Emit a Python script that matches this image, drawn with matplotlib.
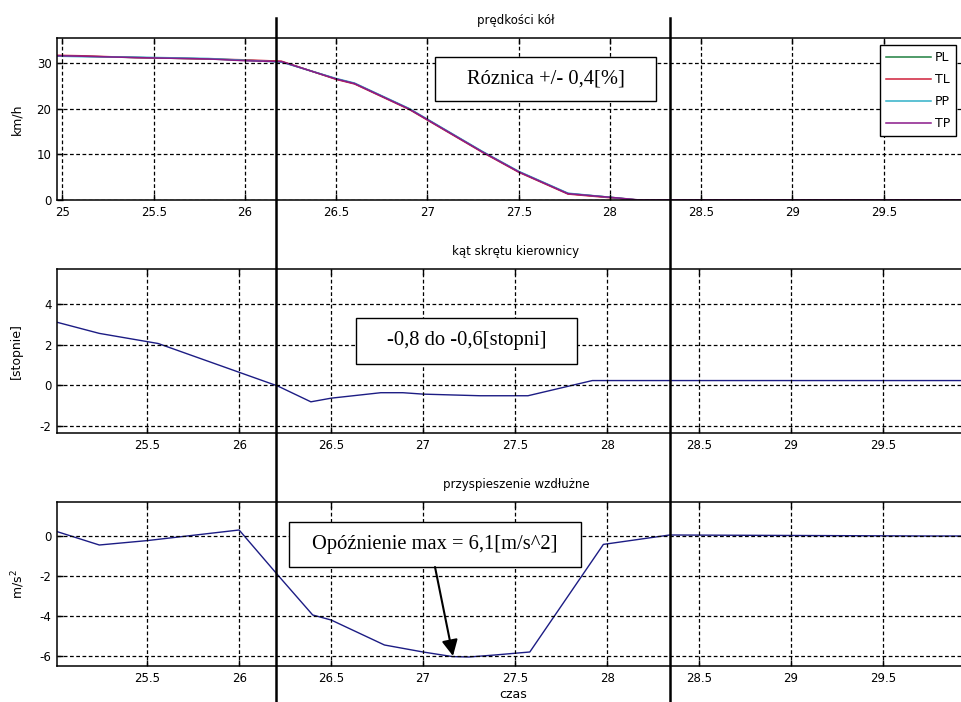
import matplotlib
matplotlib.use("Agg")
import matplotlib.pyplot as plt
from matplotlib.lines import Line2D
from matplotlib.patches import Rectangle, FancyArrowPatch

# ---------------- data ----------------
t_speed = [24.97, 25.1, 25.4, 25.8, 26.0, 26.2, 26.5, 26.6, 26.9, 27.3, 27.5, 27.77, 28.0, 28.15, 30.0]
speed_PL = [31.6, 31.6, 31.3, 31.0, 30.7, 30.4, 26.6, 25.6, 20.0, 10.6, 6.2, 1.4, 0.6, 0.0, 0.0]
speed_TL = [31.8, 31.7, 31.3, 31.0, 30.8, 30.5, 26.5, 25.5, 19.9, 10.5, 6.1, 1.3, 0.5, 0.0, 0.0]
speed_PP = [31.6, 31.5, 31.4, 31.1, 30.7, 30.3, 26.7, 25.7, 20.1, 10.7, 6.3, 1.5, 0.6, 0.0, 0.0]
speed_TP = [31.7, 31.6, 31.3, 31.0, 30.6, 30.4, 26.6, 25.6, 20.0, 10.6, 6.2, 1.4, 0.6, 0.05, 0.05]
speed_labels = ["PL", "TL", "PP", "TP"]
speed_colors = ["#1f8040", "#d0203a", "#30b0c8", "#8a1a8a"]

t_steer = [25.01, 25.24, 25.56, 26.21, 26.39, 26.5, 26.77, 26.89, 27.0, 27.31, 27.57, 27.92, 30.0]
steer = [3.1, 2.55, 2.05, -0.05, -0.83, -0.65, -0.38, -0.38, -0.45, -0.53, -0.53, 0.22, 0.22]

t_acc = [25.01, 25.24, 25.5, 26.0, 26.21, 26.4, 26.5, 26.79, 27.0, 27.16, 27.25, 27.39, 27.49,
         27.58, 27.98, 28.34, 29.74, 30.0]
acc = [0.22, -0.45, -0.23, 0.3, -1.95, -3.95, -4.2, -5.45, -5.8, -6.03, -6.05, -5.95, -5.87,
       -5.8, -0.42, 0.05, 0.0, 0.0]

marker_times = [26.2, 28.34]

x_ticks_top = [25, 25.5, 26, 26.5, 27, 27.5, 28, 28.5, 29, 29.5]
x_ticklabels_top = ["25", "25.5", "26", "26.5", "27", "27.5", "28", "28.5", "29", "29.5"]
x_ticks_low = [25.5, 26, 26.5, 27, 27.5, 28, 28.5, 29, 29.5]
x_ticklabels_low = ["25.5", "26", "26.5", "27", "27.5", "28", "28.5", "29", "29.5"]

titles = ["prędkości kół", "kąt skrętu kierownicy", "przyspieszenie wzdłużne"]
ylabels = ["km/h", "[stopnie]", "m/s$^2$"]
notes = ["Róznica +/- 0,4[%]", "-0,8 do -0,6[stopni]", "Opóźnienie max = 6,1[m/s^2]"]

# ---------------- figure ----------------
W, H = 962, 702
plt.rcParams['font.family'] = ['DejaVu Sans']
plt.rcParams['axes.unicode_minus'] = False
fig = plt.figure(figsize=(W / 100, H / 100), dpi=100)
fig.patch.set_facecolor("white")


def px(x, y):
    return (x / W, 1 - y / H)


def make_ax(top, bottom):
    left, right = 57, 975
    return fig.add_axes([left / W, 1 - bottom / H, (right - left) / W, (bottom - top) / H])


ax1 = make_ax(38, 200)
ax2 = make_ax(269, 433)
ax3 = make_ax(502, 666)

line_col = "#1c1c84"

for lbl, col, y in zip(speed_labels, speed_colors, [speed_PL, speed_TL, speed_PP, speed_TP]):
    ax1.plot(t_speed, y, color=col, lw=1.1, label=lbl)
ax2.plot(t_steer, steer, color=line_col, lw=1.0)
ax3.plot(t_acc, acc, color=line_col, lw=1.0)

ax1.set_xlim(24.97, 30.0)
ax1.set_ylim(0, 35.6)
ax1.set_yticks([0, 10, 20, 30])
ax2.set_xlim(25.01, 30.0)
ax2.set_ylim(-2.37, 5.73)
ax2.set_yticks([-2, 0, 2, 4])
ax3.set_xlim(25.01, 30.0)
ax3.set_ylim(-6.5, 1.7)
ax3.set_yticks([-6, -4, -2, 0])

ax1.set_xticks(x_ticks_top)
ax1.set_xticklabels(x_ticklabels_top)
for ax in (ax2, ax3):
    ax.set_xticks(x_ticks_low)
    ax.set_xticklabels(x_ticklabels_low)

ylab_x = [-0.037, -0.037, -0.033]
for ax, title, yl, lx in zip([ax1, ax2, ax3], titles, ylabels, ylab_x):
    ax.grid(True, color="black", linestyle=(0, (3, 2)), linewidth=0.9)
    ax.set_axisbelow(False)
    for s in ax.spines.values():
        s.set_linewidth(1.1)
        s.set_color("black")
    ax.tick_params(direction="in", top=True, right=True, length=4, width=1.0,
                   labelsize=8.5, pad=4)
    ax.set_title(title, fontsize=8.5, pad=10)
    ax.set_ylabel(yl, fontsize=9)
    ax.yaxis.set_label_coords(lx, 0.5)

ax3.set_xlabel("czas", fontsize=9)
ax3.xaxis.set_label_coords(0.497, -0.135)

leg = ax1.legend(loc="upper left", bbox_to_anchor=(0.8965, 0.957), fontsize=9,
                 handlelength=3.6, handletextpad=0.3, labelspacing=0.72,
                 borderpad=0.5, fancybox=False, framealpha=1, edgecolor="black",
                 borderaxespad=0)
leg.get_frame().set_linewidth(1.0)

# vertical marker lines spanning whole figure
for t in marker_times:
    xd, _ = ax3.transData.transform((t, 0))
    xf = xd / W
    fig.add_artist(Line2D([xf, xf], [0, 1 - 18 / H], color="black", lw=1.8,
                          transform=fig.transFigure))

# annotation boxes
boxes = [(435, 57, 656, 101), (356, 318, 577, 364), (289, 522, 581, 567)]
for (x0, y0, x1, y1), txt in zip(boxes, notes):
    bl = px(x0, y1)
    fig.add_artist(Rectangle(bl, (x1 - x0) / W, (y1 - y0) / H, transform=fig.transFigure,
                             facecolor="white", edgecolor="black", lw=1.0, zorder=5))
    cx, cy = px((x0 + x1) / 2, (y0 + y1) / 2)
    fig.text(cx, cy, txt, ha="center", va="center", fontsize=14.8,
             family=["Liberation Serif", "DejaVu Serif"], zorder=6)

# arrow
fig.add_artist(FancyArrowPatch(px(435, 567), px(453, 656), transform=fig.transFigure,
                               arrowstyle="-|>", mutation_scale=24, color="black",
                               lw=1.5, zorder=6, shrinkA=0, shrinkB=0))

fig.savefig("out.png", dpi=100)
